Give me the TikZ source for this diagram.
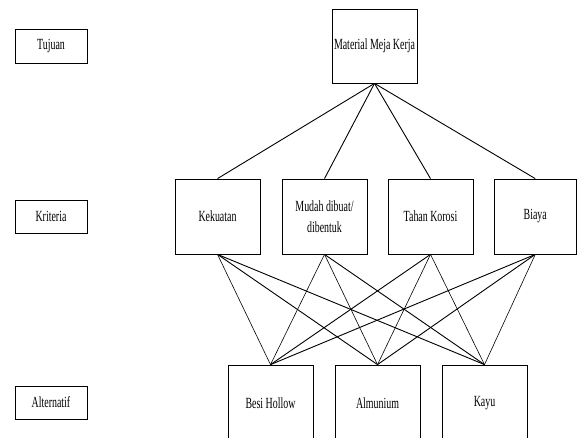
\documentclass[tikz,border=0pt]{standalone}
\usepackage{fontspec}
\setmainfont{Liberation Serif}[FakeStretch=0.64]
\begin{document}
\begin{tikzpicture}[x=1pt,y=-1pt,
  box/.style={draw, line width=0.8pt, inner sep=0pt, align=center,
    font=\fontsize{15.5}{21}\selectfont},
  lvlbox/.style={box, minimum width=72pt, minimum height=34pt},
  critbox/.style={box, minimum width=85pt, minimum height=75pt},
  link/.style={line width=0.9pt},
  thinlink/.style={line width=0.6pt}]
\useasboundingbox (0,0) rectangle (577,437);
% level labels
\node[lvlbox] (tuj) at (51,46) {Tujuan};
\node[lvlbox, minimum height=33pt] (kri) at (51,216.5) {Kriteria};
\node[lvlbox, minimum height=33pt] (alt) at (51,402.5) {Alternatif};
% goal
\node[critbox, minimum height=74pt] (mat) at (374.5,46) {Material Meja Kerja};
% criteria
\node[critbox] (kek) at (217.5,216.5) {Kekuatan};
\node[critbox] (mud) at (324.5,216.5) {Mudah dibuat/\\dibentuk};
\node[critbox] (tah) at (430.5,216.5) {Tahan Korosi};
\node[critbox, minimum width=82.5pt] (bia) at (535.25,216.5) {Biaya};
% alternatives
\node[critbox, minimum height=76pt] (besi) at (270.5,403) {Besi Hollow};
\node[critbox, minimum height=76pt] (alm) at (377.5,403) {Almunium};
\node[critbox, minimum height=76pt] (kayu) at (484.5,403) {Kayu};
% goal to criteria
\foreach \c in {kek,mud,tah,bia}
  \draw[link] (mat.south) -- (\c.north);
% criteria to alternatives
\draw[thinlink] (kek.south) -- (besi.north);
\draw[link] (kek.south) -- (alm.north);
\draw[link] (kek.south) -- (kayu.north);
\draw[thinlink] (mud.south) -- (besi.north);
\draw[thinlink] (mud.south) -- (alm.north);
\draw[link] (mud.south) -- (kayu.north);
\draw[link] (tah.south) -- (besi.north);
\draw[thinlink] (tah.south) -- (alm.north);
\draw[thinlink] (tah.south) -- (kayu.north);
\draw[link] (bia.south) -- (besi.north);
\draw[link] (bia.south) -- (alm.north);
\draw[thinlink] (bia.south) -- (kayu.north);
\end{tikzpicture}
\end{document}
